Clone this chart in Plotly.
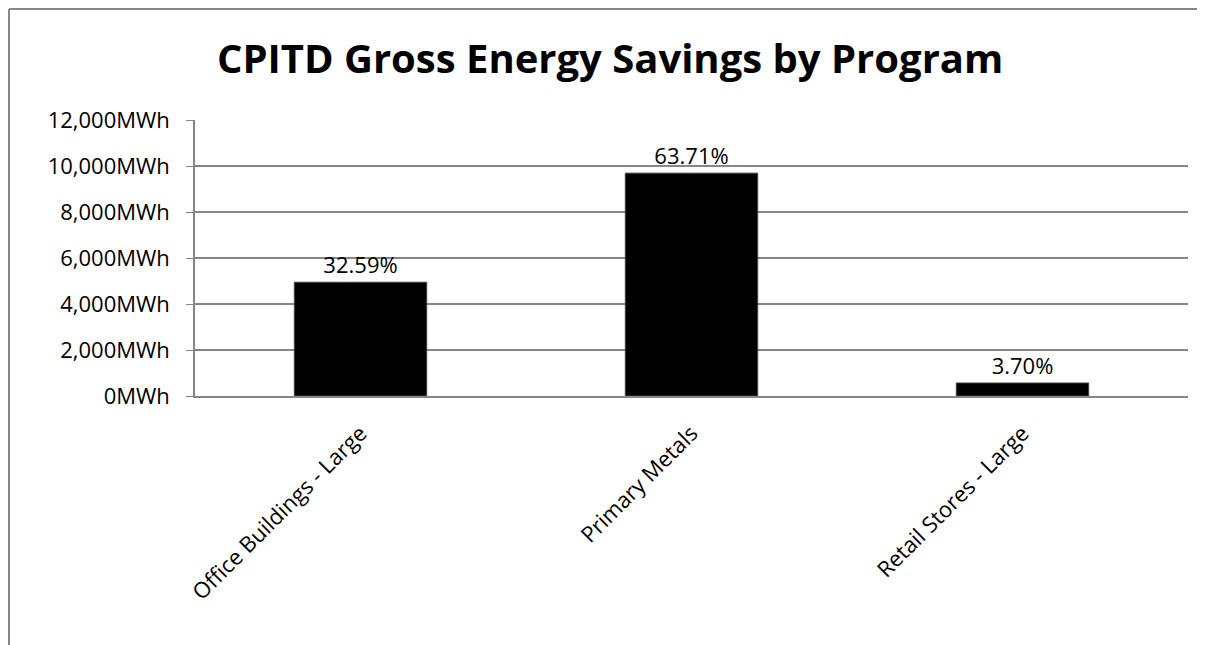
import plotly.graph_objects as go

categories = ["Office Buildings - Large", "Primary Metals", "Retail Stores - Large"]
savings_mwh = [4945, 9690, 565]
share_labels = ["32.59%", "63.71%", "3.70%"]
y_ticks = [0, 2000, 4000, 6000, 8000, 10000, 12000]
y_tick_text = ["0MWh", "2,000MWh", "4,000MWh", "6,000MWh", "8,000MWh", "10,000MWh", "12,000MWh"]

FONT = "Open Sans"
GRID = "#868686"

fig = go.Figure(
    go.Bar(
        x=categories,
        y=savings_mwh,
        text=share_labels,
        textposition="outside",
        textfont=dict(family=FONT, size=22, color="black"),
        marker=dict(color="black", line=dict(color="#404040", width=1)),
        cliponaxis=False,
        width=0.4,
    )
)

# page is offset by the 8px body margin, so the figure is 1197x637
fig.update_layout(
    width=1197,
    height=637,
    margin=dict(l=187, r=17, t=112, b=249),
    paper_bgcolor="white",
    plot_bgcolor="white",
    showlegend=False,
    title=dict(
        text="<b>CPITD Gross Energy Savings by Program</b>",
        font=dict(family=FONT, size=40, color="black"),
        x=0.503,
        xanchor="center",
        y=0.92,
        yanchor="middle",
    ),
)

fig.update_yaxes(
    range=[0, 12000],
    tickvals=y_ticks,
    ticktext=y_tick_text,
    showgrid=True,
    gridcolor=GRID,
    gridwidth=1.5,
    showline=True,
    linecolor=GRID,
    linewidth=1.5,
    ticks="outside",
    ticklen=7,
    tickcolor=GRID,
    tickfont=dict(family=FONT, size=22, color="black"),
    ticklabelstandoff=12,
    zeroline=False,
)

fig.update_xaxes(
    showline=True,
    linecolor=GRID,
    linewidth=1.5,
    ticks="",
    tickangle=-45,
    tickfont=dict(family=FONT, size=22, color="black"),
    ticklabelstandoff=14,
)

# outer chart border (top and left edges visible)
fig.add_shape(type="line", xref="paper", yref="paper",
              x0=-0.1873, x1=1.03, y0=1.4022, y1=1.4022,
              line=dict(color=GRID, width=2))
fig.add_shape(type="line", xref="paper", yref="paper",
              x0=-0.1873, x1=-0.1873, y0=1.4022, y1=-0.91,
              line=dict(color=GRID, width=2))

fig.write_html("out.html")
